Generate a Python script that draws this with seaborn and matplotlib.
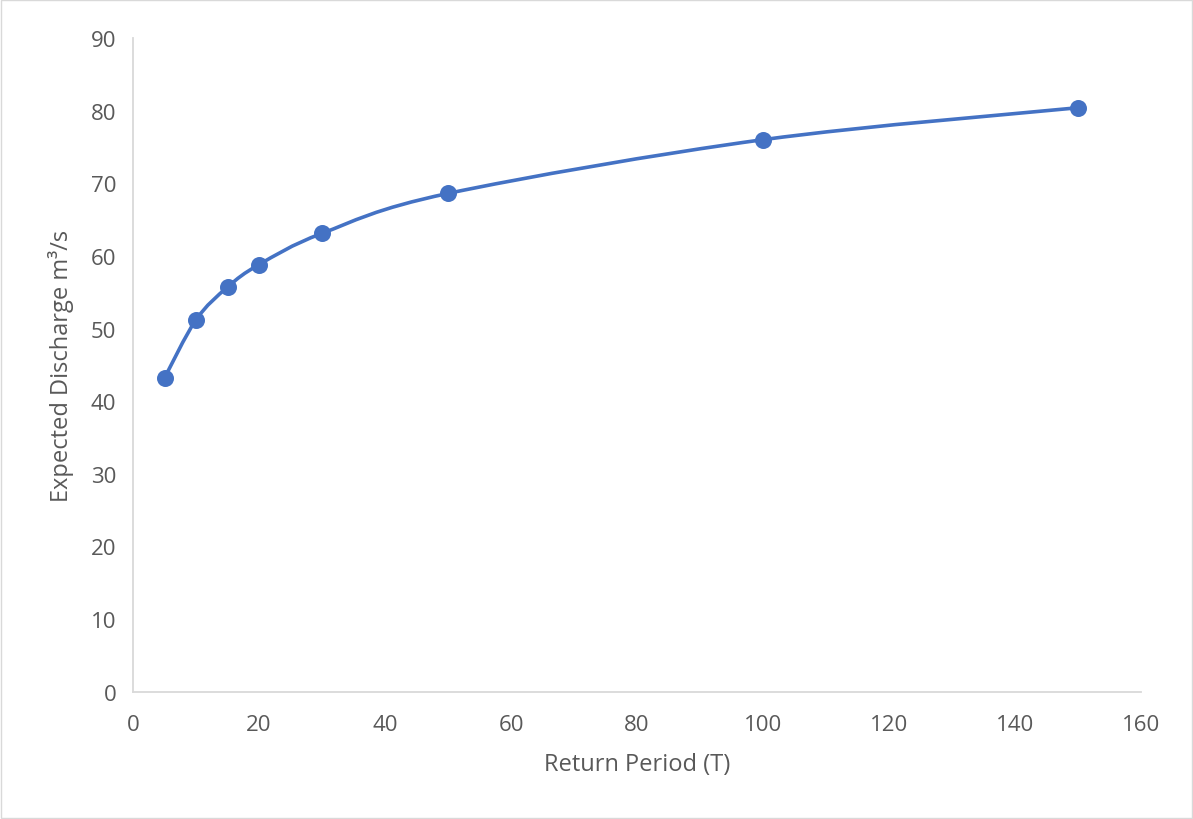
import matplotlib
matplotlib.use("Agg")
import matplotlib.pyplot as plt
import seaborn as sns
import numpy as np
import pandas as pd
from matplotlib.path import Path
from matplotlib.patches import PathPatch, Rectangle

return_period = [5, 10, 15, 20, 30, 50, 100, 150]
discharge = [43.2, 51.2, 55.7, 58.8, 63.1, 68.6, 76.0, 80.4]
x_ticks = [0, 20, 40, 60, 80, 100, 120, 140, 160]
y_ticks = [0, 10, 20, 30, 40, 50, 60, 70, 80, 90]

sns.set_theme(style="white")
plt.rcParams['font.family'] = ['Open Sans', 'DejaVu Sans']

LINE = "#4472C4"
TXT = "#595959"
AX = "#D9D9D9"

fig = plt.figure(figsize=(11.93, 8.20), dpi=100)
ax = fig.add_axes([133/1193, 1-692.7/820, (1141-133)/1193, (692.7-39)/820])

df = pd.DataFrame({"T": return_period, "Q": discharge})

# Excel-style smoothed line: cubic Bezier segments through the data points
xs = np.array(return_period, dtype=float)
ys = np.array(discharge, dtype=float)
verts = [(xs[0], ys[0])]
codes = [Path.MOVETO]
n = len(xs)
for i in range(n - 1):
    p0 = (xs[i - 1], ys[i - 1]) if i > 0 else (xs[i], ys[i])
    p1 = (xs[i], ys[i])
    p2 = (xs[i + 1], ys[i + 1])
    p3 = (xs[i + 2], ys[i + 2]) if i + 2 < n else (xs[i + 1], ys[i + 1])
    c1 = (p1[0] + (p2[0] - p0[0]) / 6, p1[1] + (p2[1] - p0[1]) / 6)
    c2 = (p2[0] - (p3[0] - p1[0]) / 6, p2[1] - (p3[1] - p1[1]) / 6)
    verts += [c1, c2, p2]
    codes += [Path.CURVE4] * 3
ax.add_patch(PathPatch(Path(verts, codes), fill=False, edgecolor=LINE, lw=2.6,
                       capstyle="round", zorder=2))

sns.scatterplot(data=df, x="T", y="Q", ax=ax, color=LINE, s=150,
                edgecolor=LINE, linewidth=0, zorder=3, legend=False)

ax.set_xlim(0, 160)
ax.set_ylim(0, 90)
ax.set_xticks(x_ticks)
ax.set_yticks(y_ticks)
ax.tick_params(axis="both", length=0, labelsize=16, labelcolor=TXT)
ax.tick_params(axis="y", pad=12)
ax.tick_params(axis="x", pad=16)
for s in ["top", "right"]:
    ax.spines[s].set_visible(False)
for s in ["left", "bottom"]:
    ax.spines[s].set_color(AX)
    ax.spines[s].set_linewidth(1.3)

ax.set_xlabel("Return Period (T)", fontsize=17, color=TXT, labelpad=12)
ax.set_ylabel("Expected Discharge m\u00b3/s", fontsize=17, color=TXT, labelpad=12)

fig.patches.append(Rectangle((1/1193, 1/820), 1 - 2/1193, 1 - 2/820,
                             transform=fig.transFigure, fill=False,
                             edgecolor=AX, lw=1.0))

fig.savefig("out.png", dpi=100)
